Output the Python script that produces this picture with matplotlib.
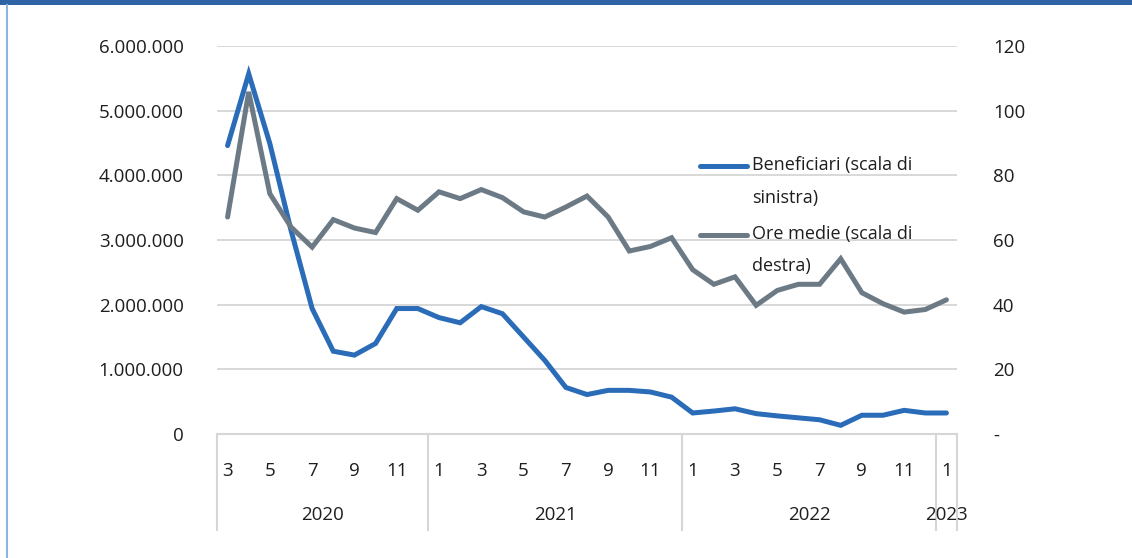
import matplotlib
matplotlib.use("Agg")
import matplotlib.pyplot as plt
from matplotlib.lines import Line2D
from matplotlib.patches import Rectangle
from matplotlib.ticker import FuncFormatter, FixedLocator
import matplotlib.transforms as mtransforms

plt.rcParams['font.family'] = ['Open Sans', 'DejaVu Sans']

# Monthly series, March 2020 - January 2023
mesi = [3, 4, 5, 6, 7, 8, 9, 10, 11, 12,
        1, 2, 3, 4, 5, 6, 7, 8, 9, 10, 11, 12,
        1, 2, 3, 4, 5, 6, 7, 8, 9, 10, 11, 12,
        1]
anni = ['2020', '2021', '2022', '2023']
mesi_per_anno = [10, 12, 12, 1]

beneficiari = [4460000, 5570000, 4490000, 3150000, 1940000, 1280000, 1220000,
               1400000, 1940000, 1940000, 1800000, 1720000, 1970000, 1860000,
               1500000, 1140000, 720000, 610000, 675000, 675000, 650000, 570000,
               325000, 355000, 390000, 315000, 280000, 250000, 220000, 134000,
               290000, 290000, 366000, 325000, 325000]

ore_medie = [67.1, 105.8, 74.3, 64.0, 57.8, 66.3, 63.7, 62.3, 72.8, 69.2,
             74.9, 72.8, 75.6, 73.1, 68.7, 67.1, 70.2, 73.6, 67.1, 56.6,
             58.0, 60.7, 50.8, 46.3, 48.6, 39.8, 44.4, 46.3, 46.3, 54.2,
             43.7, 40.3, 37.7, 38.5, 41.5]

etichette = ['Beneficiari (scala di\nsinistra)', 'Ore medie (scala di\ndestra)']

BLUE = '#2A6CB8'
GREY = '#6C7A86'
GRID = '#D6D6D6'
TXT = '#1E1E1E'

W, H = 1132, 558
fig = plt.figure(figsize=(W / 100, H / 100), dpi=100)
fig.patch.set_facecolor('white')

ax = fig.add_axes([217 / W, 124 / H, 740 / W, 388 / H])
ax2 = ax.twinx()

x = list(range(len(mesi)))
ax.plot(x, beneficiari, color=BLUE, lw=3.6, solid_capstyle='round',
        solid_joinstyle='miter', zorder=3)
ax2.plot(x, ore_medie, color=GREY, lw=3.6, solid_capstyle='round',
         solid_joinstyle='miter', zorder=3)

ax.set_xlim(-0.5, len(mesi) - 0.5)
ax.set_ylim(0, 6000000)
ax2.set_ylim(0, 120)

ax.set_yticks(range(0, 6000001, 1000000))
ax2.set_yticks(range(0, 121, 20))
ax.yaxis.set_major_formatter(FuncFormatter(lambda v, p: f"{int(v):,}".replace(',', '.')))
ax2.yaxis.set_major_formatter(FuncFormatter(lambda v, p: '-' if v == 0 else f"{int(v)}"))

ax.grid(axis='y', color=GRID, lw=1.3)
ax.set_axisbelow(True)

for a in (ax, ax2):
    for s in ('top', 'left', 'right', 'bottom'):
        a.spines[s].set_visible(False)

ax.tick_params(axis='y', length=0, pad=24, labelsize=13.5, labelcolor=TXT)
ax2.tick_params(axis='y', length=0, pad=26, labelsize=13.5, labelcolor=TXT)

# month labels every other category
ax.xaxis.set_major_locator(FixedLocator(x[::2]))
ax.set_xticklabels([str(m) for m in mesi[::2]])
ax.tick_params(axis='x', length=0, pad=20, labelsize=13.5, labelcolor=TXT)

# category axis: baseline, year separators and year labels
trans = mtransforms.blended_transform_factory(ax.transData, ax.transAxes)
ax.plot([-0.5, len(mesi) - 0.5], [0, 0], transform=trans, color=GRID,
        lw=1.5, clip_on=False, zorder=2)
depth = -96 / 388
start = -0.5
bounds = [start]
for n in mesi_per_anno:
    start += n
    bounds.append(start)
for b in bounds:
    ax.plot([b, b], [0, depth], transform=trans, color=GRID, lw=1.5,
            clip_on=False)
for i, anno in enumerate(anni):
    c = (bounds[i] + bounds[i + 1]) / 2
    ax.text(c, -81 / 388, anno, transform=trans, ha='center', va='center',
            fontsize=13.5, color=TXT)

# legend, wrapped labels with handle on the first line
legend_rows = [(166, BLUE, etichette[0]), (235, GREY, etichette[1])]
for yy, col, lab in legend_rows:
    fy = 1 - yy / H
    fig.add_artist(Line2D([700 / W, 747 / W], [fy, fy], color=col, lw=3.6,
                          solid_capstyle='round', transform=fig.transFigure))
    for k, line in enumerate(lab.split('\n')):
        fig.text(752 / W, 1 - (yy - 1 + k * 32.5) / H, line, ha='left',
                 va='center', fontsize=13, color=TXT)

# frame decoration
fig.add_artist(Rectangle((0, 1 - 5 / H), 1, 5 / H, transform=fig.transFigure,
                         color='#2E64A6', lw=0))
fig.add_artist(Line2D([6.5 / W, 6.5 / W], [0, 1 - 5 / H], color='#8FB4E0',
                      lw=1.5, transform=fig.transFigure))

fig.savefig('out.png', dpi=100)
